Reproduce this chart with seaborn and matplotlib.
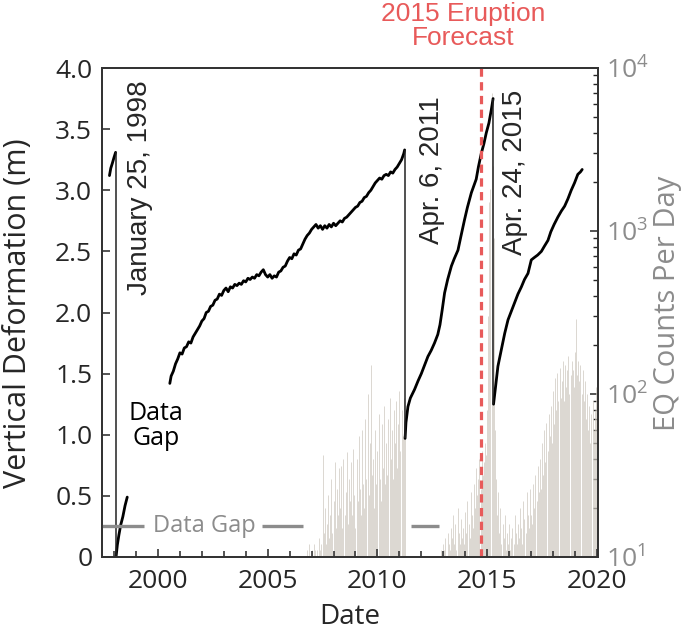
import numpy as np
import pandas as pd
import matplotlib
matplotlib.use("Agg")
import matplotlib.pyplot as plt
import matplotlib.ticker as mticker
import seaborn as sns

# ---- vertical deformation (decimal year, m) ----
pre98_yr = [1997.79, 1997.85, 1997.92, 1998.00, 1998.07]
pre98_dz = [3.12, 3.18, 3.22, 3.27, 3.31]

post98_yr = [1998.09, 1998.15, 1998.22, 1998.30, 1998.40, 1998.50, 1998.60]
post98_dz = [0.00, 0.10, 0.18, 0.26, 0.33, 0.42, 0.49]

mid_yr = [2000.54, 2000.60, 2000.70, 2000.80, 2000.90, 2001.00, 2001.10, 2001.20, 2001.30, 2001.40,
          2001.50, 2001.60, 2001.70, 2001.80, 2001.90, 2002.00, 2002.10, 2002.20, 2002.30, 2002.40,
          2002.50, 2002.60, 2002.70, 2002.80, 2002.90, 2003.00, 2003.10, 2003.20, 2003.30, 2003.40,
          2003.50, 2003.60, 2003.70, 2003.80, 2003.90, 2004.00, 2004.10, 2004.20, 2004.30, 2004.40,
          2004.50, 2004.60, 2004.70, 2004.80, 2004.90, 2005.00, 2005.10, 2005.20, 2005.30, 2005.40,
          2005.50, 2005.60, 2005.70, 2005.80, 2005.90, 2006.00, 2006.10, 2006.20, 2006.30, 2006.40,
          2006.50, 2006.60, 2006.70, 2006.80, 2006.90, 2007.00, 2007.10, 2007.20, 2007.30, 2007.40,
          2007.50, 2007.60, 2007.70, 2007.80, 2007.90, 2008.00, 2008.10, 2008.20, 2008.30, 2008.40,
          2008.50, 2008.60, 2008.70, 2008.80, 2008.90, 2009.00, 2009.10, 2009.20, 2009.30, 2009.40,
          2009.50, 2009.60, 2009.70, 2009.80, 2009.90, 2010.00, 2010.10, 2010.20, 2010.30, 2010.40,
          2010.50, 2010.60, 2010.70, 2010.80, 2010.90, 2011.00, 2011.10, 2011.20, 2011.24]
mid_dz = [1.42, 1.48, 1.52, 1.58, 1.62, 1.67, 1.66, 1.71, 1.72, 1.76,
          1.75, 1.80, 1.83, 1.86, 1.89, 1.93, 1.95, 2.00, 2.01, 2.05,
          2.06, 2.10, 2.11, 2.15, 2.14, 2.18, 2.20, 2.17, 2.21, 2.20,
          2.23, 2.22, 2.24, 2.23, 2.26, 2.25, 2.28, 2.27, 2.29, 2.28,
          2.31, 2.30, 2.33, 2.35, 2.31, 2.29, 2.31, 2.28, 2.30, 2.29,
          2.33, 2.34, 2.37, 2.38, 2.42, 2.45, 2.44, 2.48, 2.47, 2.51,
          2.52, 2.56, 2.60, 2.63, 2.65, 2.68, 2.70, 2.72, 2.69, 2.71,
          2.68, 2.71, 2.69, 2.72, 2.70, 2.73, 2.71, 2.73, 2.75, 2.74,
          2.77, 2.78, 2.80, 2.82, 2.84, 2.86, 2.87, 2.90, 2.91, 2.94,
          2.95, 2.98, 3.00, 3.03, 3.06, 3.08, 3.10, 3.09, 3.12, 3.13,
          3.12, 3.15, 3.14, 3.17, 3.19, 3.22, 3.25, 3.30, 3.33]

post11_yr = [2011.26, 2011.30, 2011.39, 2011.50, 2011.69, 2011.85, 2012.00, 2012.15, 2012.30, 2012.45,
             2012.60, 2012.75, 2012.85, 2012.95, 2013.06, 2013.20, 2013.37, 2013.50, 2013.67, 2013.80,
             2013.97, 2014.10, 2014.28, 2014.40, 2014.50, 2014.60, 2014.73, 2014.85, 2014.96, 2015.08,
             2015.19, 2015.27]
post11_dz = [0.97, 1.10, 1.23, 1.30, 1.37, 1.44, 1.50, 1.57, 1.64, 1.69,
             1.75, 1.82, 1.90, 2.02, 2.16, 2.27, 2.38, 2.44, 2.51, 2.62,
             2.76, 2.86, 2.98, 3.04, 3.09, 3.19, 3.30, 3.38, 3.47, 3.55,
             3.66, 3.75]

post15_yr = [2015.29, 2015.40, 2015.49, 2015.65, 2015.80, 2015.95, 2016.10, 2016.25, 2016.40, 2016.56,
             2016.70, 2016.86, 2017.01, 2017.15, 2017.30, 2017.47, 2017.60, 2017.77, 2017.90, 2018.05,
             2018.22, 2018.38, 2018.53, 2018.68, 2018.83, 2018.98, 2019.13, 2019.25, 2019.33]
post15_dz = [1.25, 1.42, 1.56, 1.70, 1.83, 1.94, 2.01, 2.08, 2.15, 2.21,
             2.27, 2.32, 2.43, 2.45, 2.47, 2.50, 2.54, 2.59, 2.66, 2.72,
             2.78, 2.83, 2.87, 2.93, 3.00, 3.06, 3.13, 3.15, 3.17]

# eruption steps: (year, before, after)
step_yr = [1998.08, 2011.25, 2015.28]
step_top = [3.31, 3.33, 3.75]
step_bot = [0.00, 0.97, 1.25]

# ---- earthquake counts per day ----
eq_yr_a = np.round(np.arange(2006.80, 2011.251, 0.05), 2)
eq_ct_a = [11, 10, 12, 10, 11, 10, 12, 11, 10, 11,
           10, 13, 11, 12, 42, 14, 20, 12, 16, 24,
           13, 18, 30, 14, 22, 38, 15, 26, 18, 35,
           20, 36, 15, 40, 18, 25, 44, 16, 30, 22,
           38, 18, 46, 24, 15, 40, 22, 55, 26, 18,
           60, 28, 20, 70, 30, 100, 24, 50, 150, 32,
           40, 20, 60, 28, 45, 75, 30, 22, 65, 35,
           85, 28, 50, 32, 70, 95, 40, 60, 30, 80,
           50, 90, 35, 65, 105, 45, 80, 55, 95, 70]
eq_yr_b = np.round(np.arange(2012.90, 2020.001, 0.05), 2)
eq_ct_b = [11, 10, 12, 11, 13, 10, 14, 12, 11, 15,
           13, 18, 12, 16, 11, 20, 14, 12, 17, 13,
           15, 12, 19, 14, 22, 16, 13, 25, 18, 15,
           28, 20, 35, 24, 30, 40, 26, 45, 32, 38,
           50, 42, 80, 300, 1500, 1800, 7000, 2500, 900, 60,
           30, 18, 25, 14, 20, 12, 16, 13, 18, 11,
           14, 12, 16, 11, 13, 15, 12, 18, 14, 12,
           16, 13, 20, 15, 12, 22, 17, 14, 25, 18,
           15, 26, 18, 16, 28, 20, 32, 22, 36, 25,
           40, 26, 50, 32, 60, 38, 66, 45, 75, 55,
           85, 50, 105, 65, 125, 80, 135, 90, 145, 95,
           120, 160, 90, 150, 110, 140, 170, 100, 130, 160,
           140, 110, 180, 290, 130, 160, 120, 150, 100, 140,
           90, 120, 70, 100, 60, 85, 50, 75, 90, 60,
           80, 110, 70]

gap_lines = [(1997.45, 1999.35), (2004.72, 2006.59), (2011.52, 2012.80)]
forecast_yr = 2014.7

sns.set_style("ticks")
plt.rcParams['font.family'] = ['Open Sans', 'DejaVu Sans']
plt.rcParams['mathtext.default'] = 'regular'

GRAY = '#8c8c8c'
BAR = '#cdc8bf'
RED = '#e85a5a'

fig = plt.figure(figsize=(6.85, 6.31), dpi=100)
ax = fig.add_axes([102/685, 1 - 557/631, 496/685, 489/631])
ax2 = ax.twinx()
ax.set_zorder(ax2.get_zorder() + 1)
ax.patch.set_visible(False)

# EQ bars
eq = pd.DataFrame({'yr': np.concatenate([eq_yr_a, eq_yr_b]),
                   'ct': eq_ct_a + eq_ct_b})
ax2.vlines(eq['yr'], 10, eq['ct'], colors=BAR, lw=0.5)
ax2.set_yscale('log')
ax2.set_ylim(10, 1e4)

# deformation
for yr, dz in [(pre98_yr, pre98_dz), (post98_yr, post98_dz), (mid_yr, mid_dz),
               (post11_yr, post11_dz), (post15_yr, post15_dz)]:
    sns.lineplot(x=yr, y=dz, ax=ax, color='black', lw=2.0, sort=False, estimator=None)
ax.vlines(step_yr, step_bot, step_top, colors='#222222', lw=1.1)

# data gap markers
for x0, x1 in gap_lines:
    ax.plot([x0, x1], [0.25, 0.25], color=GRAY, lw=2.4, solid_capstyle='butt')
ax.text(2002.1, 0.25, 'Data Gap', color=GRAY, fontsize=17, ha='center', va='center')
ax.text(1999.92, 1.07, 'Data\nGap', color='black', fontsize=18, ha='center', va='center',
        linespacing=1.0)

# forecast line
ax.axvline(forecast_yr, color=RED, lw=2.3, dashes=(2.6, 1.7))

# dates
ann = dict(rotation=90, ha='center', va='top', fontsize=20, family='Liberation Sans')
ax.text(1999.18, 3.90, 'January 25, 1998', **ann)
ax.text(2012.50, 3.77, 'Apr. 6, 2011', **ann)
ax.text(2016.27, 3.82, 'Apr. 24, 2015', **ann)

ax.set_xlim(1997.45, 2020.05)
ax.set_ylim(0, 4)
ax.xaxis.set_major_locator(mticker.MultipleLocator(5))
ax.xaxis.set_minor_locator(mticker.MultipleLocator(1))
yt = np.arange(0, 4.01, 0.5)
ax.set_yticks(yt)
ax.set_yticklabels(['0'] + ['%.1f' % v for v in yt[1:]])
ax.tick_params(axis='y', which='major', direction='in', length=6, width=1.1,
               labelsize=19, pad=7)
ax.tick_params(axis='x', which='major', direction='in', length=6, width=1.1,
               labelsize=19, pad=9)
ax.tick_params(axis='x', which='minor', direction='in', length=4, width=1.1)
ax2.tick_params(axis='y', which='major', direction='in', length=6, width=1.1,
                labelsize=19, labelcolor=GRAY, pad=6)
ax2.tick_params(axis='y', which='minor', direction='in', length=3.5, width=1.0)
ax2.yaxis.set_major_formatter(mticker.LogFormatterMathtext())
ax.set_xlabel('')
ax.set_ylabel('')

for a in (ax, ax2):
    for s in a.spines.values():
        s.set_linewidth(1.3)
        s.set_color('#333333')

fig.text(18/685, 1 - 313/631, 'Vertical Deformation (m)', rotation=90,
         ha='center', va='center', fontsize=22)
fig.text(668/685, 1 - 303/631, 'EQ Counts Per Day', rotation=90,
         ha='center', va='center', fontsize=21, color=GRAY)
fig.text(350/685, 1 - 617/631, 'Date', ha='center', va='center', fontsize=20)
fig.text(463/685, 1 - 26/631, '2015 Eruption\nForecast', ha='center', va='center',
         fontsize=19, color=RED, family='Liberation Sans', linespacing=1.05)

fig.savefig('out.png', dpi=100)
